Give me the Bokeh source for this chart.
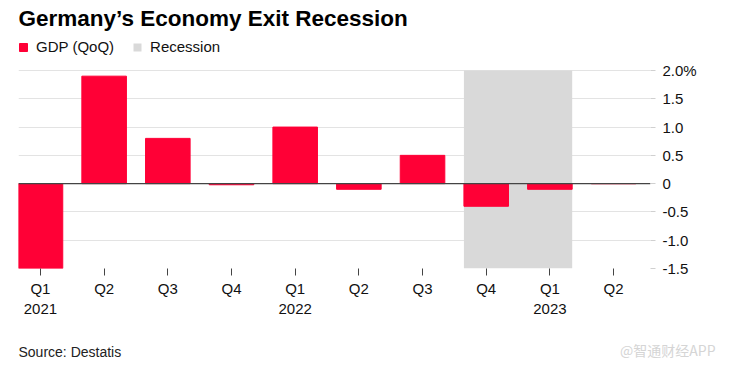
from bokeh.plotting import figure
from bokeh.layouts import column
from bokeh.models import Range1d, FixedTicker, Legend, LegendItem, Span, Label, ColumnDataSource
from bokeh.embed import file_html
from bokeh.resources import INLINE

# ---- data ----
quarters = ["Q1", "Q2", "Q3", "Q4", "Q1", "Q2", "Q3", "Q4", "Q1", "Q2"]
years = ["2021", "", "", "", "2022", "", "", "", "2023", ""]
gdp = [-1.5, 1.9, 0.8, -0.02, 1.0, -0.1, 0.5, -0.4, -0.1, 0.0]
recession_quarters = [7, 8]  # Q4 2022, Q1 2023
y_ticks = [-1.5, -1.0, -0.5, 0, 0.5, 1.0, 1.5, 2.0]
y_labels = ["-1.5", "-1.0", "-0.5", "0", "0.5", "1.0", "1.5", "2.0%"]

FONT = "Liberation Sans"
RED = "#ff0036"
GRAY = "#d9d9d9"
BAR_W = 0.7

# ---- layout (pixels) ----
W, H = 719, 361
MAIN_H = 320
FOOT_H = H - MAIN_H
FRAME_L, FRAME_R, FRAME_B = 18, 650, 268
TOP_TICK_PX = 70          # pixel row of the top tick (2.0)
px_per_unit = (FRAME_B - TOP_TICK_PX) / (y_ticks[-1] - y_ticks[0])
y_end = y_ticks[-1] + TOP_TICK_PX / px_per_unit   # frame extends up to the canvas top

idx = list(range(len(gdp)))
src = ColumnDataSource(dict(x=idx, top=gdp))

p = figure(width=W, height=MAIN_H, output_backend="svg", toolbar_location=None,
           x_range=Range1d(-0.345, 9.58), y_range=Range1d(y_ticks[0], y_end),
           y_axis_location="right",
           min_border_left=FRAME_L, min_border_right=W - FRAME_R,
           min_border_top=0, min_border_bottom=MAIN_H - FRAME_B)
p.outline_line_color = None
p.background_fill_color = "white"

# recession shading
rec = p.quad(left=[recession_quarters[0] - BAR_W / 2], right=[recession_quarters[-1] + BAR_W / 2],
             bottom=[y_ticks[0]], top=[y_ticks[-1]], fill_color=GRAY, line_color=None)

bars = p.vbar(x="x", top="top", bottom=0, width=BAR_W, source=src,
              fill_color=RED, line_color=RED, line_width=1)

zero = Span(location=0, dimension="width", line_color="#444444", line_width=1.2, level="overlay")
p.add_layout(zero)

# axes
p.xgrid.visible = False
p.ygrid.ticker = FixedTicker(ticks=[t for t in y_ticks if t not in (y_ticks[0], 0)])
p.ygrid.grid_line_color = "#e3e3e3"

xa = p.xaxis[0]
xa.ticker = FixedTicker(ticks=idx)
xa.major_label_overrides = {i: (f"{q}\n{y}" if y else q) for i, (q, y) in enumerate(zip(quarters, years))}
xa.axis_line_color = None
xa.major_tick_in = 0
xa.major_tick_out = 7
xa.major_tick_line_color = "#444444"
xa.minor_tick_line_color = None
xa.major_label_text_font = FONT
xa.major_label_text_font_size = "15px"
xa.major_label_text_color = "#111111"
xa.major_label_standoff = 4

ya = p.yaxis[0]
ya.ticker = FixedTicker(ticks=y_ticks)
ya.major_label_overrides = {t: l for t, l in zip(y_ticks, y_labels)}
ya.axis_line_color = None
ya.major_tick_in = 0
ya.major_tick_out = 5
ya.major_tick_line_color = "#d0d0d0"
ya.minor_tick_line_color = None
ya.major_label_text_font = FONT
ya.major_label_text_font_size = "15px"
ya.major_label_text_color = "#111111"
ya.major_label_standoff = 7

# title (inside the extended frame, above the plotting area)
p.add_layout(Label(x=0, y=FRAME_B - 18, x_units="screen", y_units="screen",
                   text="Germany\u2019s Economy Exit Recession",
                   text_font=FONT, text_font_size="22.5px", text_font_style="bold",
                   text_color="#000000", text_baseline="middle"))

legend = Legend(items=[LegendItem(label="GDP (QoQ)", renderers=[bars]),
                       LegendItem(label="Recession", renderers=[rec])],
                orientation="horizontal", location=(0, FRAME_B - 55),
                label_text_font=FONT, label_text_font_size="15px", label_text_color="#111111",
                glyph_width=10, glyph_height=10, label_standoff=8, spacing=18,
                padding=0, margin=0, border_line_color=None, background_fill_alpha=0)
p.add_layout(legend)

# footer: source note and watermark
f = figure(width=W, height=FOOT_H, output_backend="svg", toolbar_location=None,
           x_range=Range1d(0, 1), y_range=Range1d(0, 1),
           x_axis_type=None, y_axis_type=None,
           min_border_left=0, min_border_right=0, min_border_top=0, min_border_bottom=0)
f.outline_line_color = None
f.xgrid.visible = False
f.ygrid.visible = False

aligned = True
if "frame_align" in f.properties():
    f.frame_align = False
    p.frame_align = False
    aligned = False
x0 = 0 if aligned else FRAME_L
x1 = (FRAME_R - FRAME_L) if aligned else (W - 4)

f.add_layout(Label(x=x0, y=FOOT_H - 31, x_units="screen", y_units="screen",
                   text="Source: Destatis", text_font=FONT, text_font_size="14px",
                   text_color="#222222", text_baseline="middle"))
f.add_layout(Label(x=x1, y=FOOT_H - 29, x_units="screen", y_units="screen",
                   text="@智通财经APP", text_font="Noto Sans CJK SC", text_font_size="14px",
                   text_color="#d5d5d5", text_align="right", text_baseline="middle"))

layout = column(p, f, spacing=0)
open("out.html", "w").write(file_html(layout, INLINE))
